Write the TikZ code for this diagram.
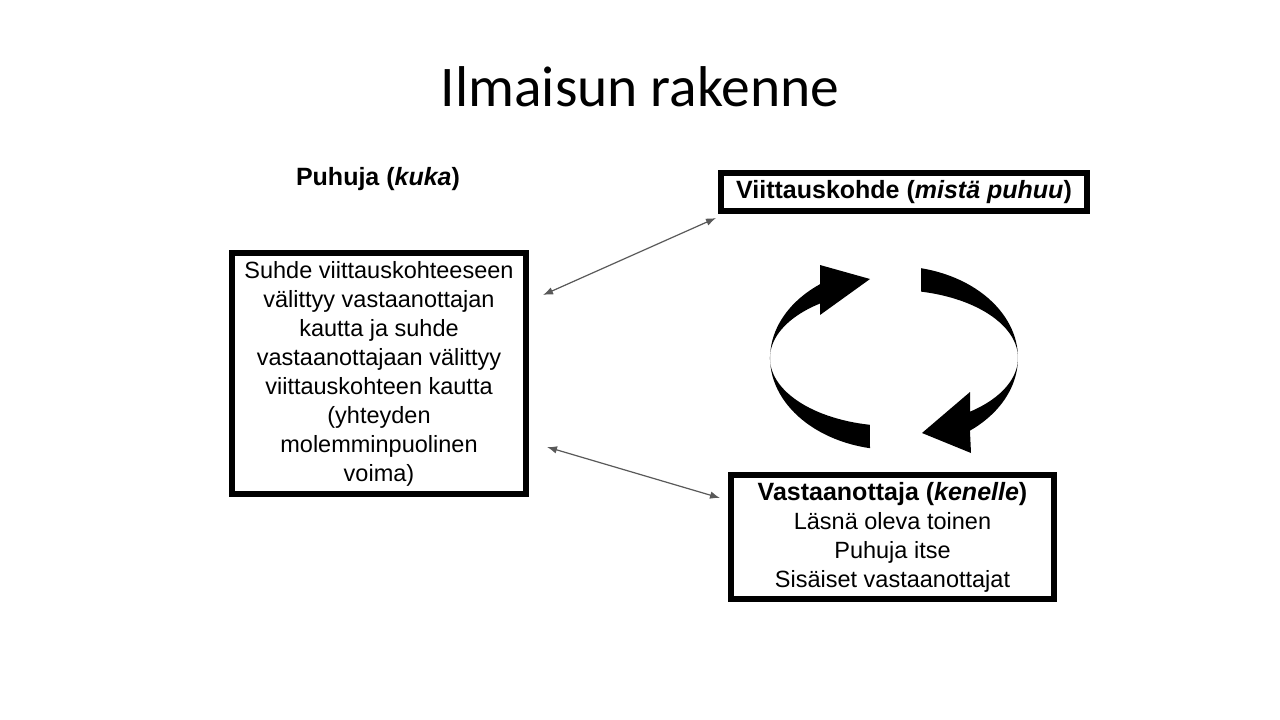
\documentclass[tikz,border=0pt]{standalone}
\usepackage{fontspec}
\setmainfont{Liberation Sans}
\newfontfamily\titlefont{Carlito}
\usepackage{tikz}
\usetikzlibrary{arrows.meta,positioning,calc}
\definecolor{LinkGray}{HTML}{595959}
\tikzset{
  infobox/.style={draw=black, line width=6pt, fill=white, align=center, inner sep=0pt, font=\fontsize{23.5}{29}\selectfont},
  headtext/.style={anchor=base, font=\fontsize{25}{29}\selectfont\bfseries},
  linkarrow/.style={{Latex[length=10pt,width=7.5pt]}-{Latex[length=10pt,width=7.5pt]}, line width=1.2pt, draw=LinkGray},
  cyclearrow/.style={fill=black}
}

\begin{document}
\begin{tikzpicture}[x=1pt, y=-1pt]
  \useasboundingbox[fill=white] (0,0) rectangle (1280,720);
  % title and speaker
  \node[anchor=base, font=\titlefont\fontsize{57.5}{70}\selectfont] (title) at (640,106) {Ilmaisun rakenne};
  \node[headtext] (puhuja) at (378,185) {Puhuja (\textit{kuka})};
  % boxes
  \node[infobox, minimum width=294pt, minimum height=241pt] (suhde) at (379,373.5) {Suhde viittauskohteeseen\\välittyy vastaanottajan\\kautta ja suhde\\vastaanottajaan välittyy\\viittauskohteen kautta\\(yhteyden\\molemminpuolinen\\voima)};
  \node[infobox, minimum width=366pt, minimum height=38pt, font=\fontsize{25}{29}\selectfont\bfseries] (kohde) at (904,192) {Viittauskohde (\textit{mistä puhuu})};
  \node[infobox, minimum width=323pt, minimum height=124pt] (vast) at (892.5,537) {{\fontsize{25}{29}\selectfont\bfseries Vastaanottaja (\textit{kenelle})}\\Läsnä oleva toinen\\Puhuja itse\\Sisäiset vastaanottajat};
  % connectors
  \coordinate (suhdeUp) at ([shift={(14,-78.5)}]suhde.east);
  \coordinate (suhdeDown) at ([shift={(18,73.5)}]suhde.east);
  \coordinate (kohdeEnd) at ([shift={(-2,4)}]kohde.south west);
  \coordinate (vastEnd) at ([shift={(-8,26)}]vast.north west);
  \draw[linkarrow] (suhdeUp) -- (kohdeEnd);
  \draw[linkarrow] (suhdeDown) -- (vastEnd);
  % cycle arrows
  \fill[cyclearrow] (921,268.2) arc[start angle=-77.4, end angle=52.2, x radius=124, y radius=92]
    -- (971,453) -- (922,433) -- (970,392) -- (970,411.7)
    arc[start angle=52.2, end angle=-77.4, x radius=124, y radius=68] -- cycle;
  \fill[cyclearrow] (870,448.2) arc[start angle=101.2, end angle=233.4, x radius=124, y radius=92]
    -- (820,265) -- (870,279) -- (820,315) -- (820,303.5)
    arc[start angle=233.4, end angle=101.2, x radius=124, y radius=68] -- cycle;
\end{tikzpicture}
\end{document}
